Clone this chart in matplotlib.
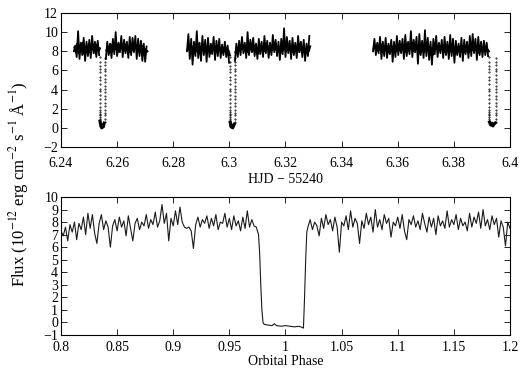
import numpy as np
import matplotlib
matplotlib.use("Agg")
import matplotlib.pyplot as plt
from matplotlib.ticker import FuncFormatter, MultipleLocator

plt.rcParams['font.family'] = ['Liberation Serif', 'DejaVu Serif']
plt.rcParams['mathtext.fontset'] = 'stix'
plt.rcParams['font.size'] = 10

# ---- top panel: light curve vs HJD-55240 ----
step = 0.0005
seg1a_t0 = 6.2446
seg1a = [8.0, 8.6, 7.4, 10.1, 7.2, 8.9, 7.6, 9.4, 7.0, 9.0, 7.5, 9.2, 7.3, 9.6, 7.8, 9.0, 7.4, 9.1, 7.6]
seg1b_t0 = 6.2560
seg1b = [7.2, 9.0, 7.6, 8.8, 7.3, 9.3, 7.7, 10.0, 7.5, 8.9, 7.9, 9.6, 7.4, 9.2, 7.8, 9.0, 7.3, 9.5, 7.6, 9.4,
         7.9, 9.6, 7.2, 9.3, 7.5, 9.1, 7.0, 8.8, 6.9, 8.5]
seg2a_t0 = 6.2849
seg2a = [8.0, 9.8, 7.2, 9.3, 6.6, 9.0, 7.5, 10.1, 7.3, 8.9, 7.0, 9.6, 7.6, 9.2, 6.9, 9.4, 7.4, 8.8, 7.7, 9.5,
         7.1, 9.1, 7.5, 9.3, 7.3, 8.7, 7.6, 9.0, 7.4, 8.6, 6.8]
seg2b_t0 = 6.3020
seg2b = [7.0, 8.8, 7.4, 9.1, 7.6, 9.5, 7.8, 8.9, 7.3, 10.0, 7.6, 9.2, 7.9, 9.4, 7.5, 8.8, 7.2, 9.3, 7.7, 9.0,
         7.4, 9.6, 7.8, 9.1, 7.3, 8.9, 7.6, 9.7, 7.9, 9.2, 7.5, 9.0, 7.1, 9.3, 7.7, 10.4, 7.4, 9.5, 7.8, 9.1,
         7.2, 9.4, 7.6, 8.9, 7.3, 9.6, 7.9, 9.0, 7.4, 9.2, 7.0, 8.8, 7.5, 9.6]
seg3_t0 = 6.3512
seg3 = [8.0, 9.3, 7.6, 8.9, 7.8, 9.5, 7.2, 9.0, 7.5, 9.4, 7.3, 8.8, 7.7, 9.2, 6.9, 9.0, 7.4, 9.6, 7.6, 9.1,
        7.8, 9.3, 7.2, 9.7, 7.5, 9.0, 7.7, 10.1, 7.4, 9.2, 7.9, 9.5, 6.7, 9.8, 7.6, 9.1, 7.3, 10.2, 7.5, 9.4,
        7.1, 9.0, 6.6, 9.3, 7.7, 9.6, 7.4, 8.9, 7.8, 9.2, 7.3, 9.5, 7.6, 9.0, 7.2, 9.7, 7.5, 9.3, 6.8, 9.1,
        7.6, 8.8, 7.4, 9.4, 7.0, 9.2, 7.7, 9.0, 7.3, 9.6, 7.5, 9.8, 7.8, 9.3, 7.1, 9.5, 7.6, 9.0, 7.4, 9.1,
        7.6, 8.9, 7.5]
# second pass through the band (inner scatter), same start times
inner1a = [8.4, 7.9, 8.8, 7.8, 8.6, 8.1, 8.9, 7.7, 8.5, 8.0, 8.7, 7.9, 8.6, 8.2, 8.4, 7.8, 8.7, 8.0, 8.3]
inner1b = [8.1, 8.5, 7.9, 8.7, 8.0, 8.4, 8.2, 8.8, 7.9, 8.6, 8.3, 8.5, 8.0, 8.7, 8.2, 8.4, 7.9, 8.6, 8.1, 8.8,
           8.3, 8.5, 7.9, 8.4, 8.1, 8.6, 7.8, 8.3, 7.9, 8.0]
inner2a = [8.2, 8.6, 7.7, 8.5, 7.9, 8.3, 8.0, 8.8, 7.8, 8.4, 8.1, 8.6, 7.9, 8.5, 8.0, 8.3, 7.8, 8.6, 8.2, 8.4,
           7.9, 8.5, 8.1, 8.3, 7.8, 8.2, 8.0, 8.4, 7.9, 8.1, 7.6]
inner2b = [7.9, 8.4, 8.0, 8.6, 8.2, 8.5, 8.1, 8.3, 7.9, 8.7, 8.2, 8.4, 8.0, 8.6, 8.3, 8.1, 7.8, 8.5, 8.2, 8.4,
           8.0, 8.7, 8.3, 8.5, 7.9, 8.4, 8.1, 8.6, 8.2, 8.5, 8.0, 8.3, 7.8, 8.6, 8.1, 8.9, 8.0, 8.5, 8.2, 8.4,
           7.9, 8.6, 8.1, 8.3, 7.9, 8.5, 8.2, 8.4, 8.0, 8.3, 7.8, 8.2, 8.0, 8.5]
inner3 = [8.3, 8.6, 8.0, 8.4, 8.2, 8.7, 7.9, 8.4, 8.1, 8.6, 7.9, 8.3, 8.2, 8.5, 7.8, 8.4, 8.0, 8.7, 8.1, 8.4,
          8.2, 8.6, 7.9, 8.8, 8.0, 8.4, 8.2, 8.9, 8.0, 8.5, 8.3, 8.6, 7.7, 8.7, 8.1, 8.4, 7.9, 8.9, 8.1, 8.5,
          7.8, 8.3, 7.6, 8.5, 8.2, 8.6, 8.0, 8.3, 8.2, 8.5, 7.9, 8.6, 8.1, 8.4, 7.9, 8.7, 8.1, 8.5, 7.7, 8.4,
          8.1, 8.3, 8.0, 8.5, 7.8, 8.4, 8.2, 8.3, 7.9, 8.6, 8.1, 8.7, 8.2, 8.5, 7.8, 8.6, 8.1, 8.3, 8.0, 8.4,
          8.1, 8.2, 8.0]

# eclipses: ingress time, egress time, bottom times/fluxes
ingress_t = [6.2538, 6.3002, 6.3926]
egress_t = [6.2557, 6.3019, 6.3949]
bottom_t = [[6.2539, 6.2542, 6.2545, 6.2548, 6.2551, 6.2554],
            [6.3003, 6.3006, 6.3009, 6.3012, 6.3015, 6.3018],
            [6.3927, 6.3931, 6.3935, 6.3939, 6.3943, 6.3947]]
bottom_f = [[0.7, 0.2, 0.0, 0.3, 0.1, 0.5],
            [0.6, 0.1, 0.3, 0.0, 0.2, 0.4],
            [0.6, 0.3, 0.5, 0.2, 0.4, 0.5]]
ingress_flux = [7.4, 6.9, 6.5, 6.2, 5.8, 5.3, 5.0, 4.6, 4.1, 3.8, 3.4, 3.0, 2.6, 2.2, 1.9, 1.7, 1.5, 1.3, 1.1, 0.9, 0.7]
egress_flux = [0.6, 0.9, 1.3, 1.6, 1.9, 2.3, 2.6, 3.0, 3.3, 3.7, 4.1, 4.4, 4.8, 5.1, 5.5, 5.9, 6.2, 6.6, 6.9, 7.3]

# ---- bottom panel: phase folded ----
pre_ph0 = 0.800
pre_flux = [7.3, 6.9, 7.6, 6.5, 7.8, 7.2, 8.0, 6.6, 7.9, 7.4, 8.4, 7.0, 8.7, 7.5, 8.6, 7.1, 6.3, 7.9, 8.6, 7.4,
            8.1, 7.6, 6.0, 7.7, 8.2, 7.3,
            8.4, 7.6, 8.1, 6.9, 8.5, 7.5, 6.5, 7.9, 8.3, 7.4, 8.0, 7.7, 8.6, 7.5, 8.2, 7.8, 8.8, 7.6, 8.1, 9.4,
            7.9, 8.7, 6.5, 8.3, 7.7,
            8.9, 7.8, 9.2, 8.0, 7.6, 7.5, 7.6, 7.3, 5.9, 7.8, 8.4, 7.6, 8.2, 7.9, 8.5, 7.5, 8.3, 7.7, 8.6, 7.4,
            8.0, 7.9, 8.7, 7.6, 8.3,
            7.4, 8.5, 7.7, 8.1, 7.3, 8.4, 7.5, 8.9, 7.6, 8.2, 7.7, 7.6]
ecl_phase = [0.976, 0.977, 0.978, 0.979, 0.980, 0.981, 0.984, 0.988, 0.990, 0.992, 0.996, 1.000, 1.004,
             1.008, 1.012, 1.015, 1.016, 1.017, 1.018, 1.019]
ecl_flux = [7.0, 5.5, 3.0, 1.0, 0.0, -0.15, -0.2, -0.25, -0.1, -0.25, -0.3, -0.25, -0.3, -0.35, -0.3,
            -0.4, -0.45, 2.0, 5.0, 7.2]
post_ph0 = 1.020
post_flux = [7.6, 8.2, 7.4, 8.0, 7.7, 6.9, 8.3, 7.5, 8.6, 7.8, 8.2, 7.3, 8.4, 7.6, 5.6, 8.0,
             7.7, 8.5, 7.4, 8.9, 7.6, 8.3, 7.9, 6.3, 8.1, 7.5, 8.7, 7.8, 8.4, 7.2, 9.0, 7.6, 8.2, 7.4, 8.6, 7.9,
             8.3, 6.8, 8.0, 7.7, 8.4,
             7.5, 8.6, 7.3, 6.6, 8.2, 7.8, 8.5, 7.6, 8.1, 7.4, 8.7, 7.9, 7.2, 8.4, 7.6, 8.3, 7.0, 8.5, 7.7, 8.1,
             7.5, 8.9, 7.6, 8.2, 7.8,
             8.6, 7.4, 8.3, 7.7, 8.0, 7.3, 8.7, 7.6, 8.4, 7.9, 8.8, 7.5, 9.0, 7.7, 8.2, 7.4, 8.5, 7.8, 8.3, 6.8,
             8.1, 7.6, 6.1, 8.0, 7.5]
ph_step = 0.002


def fmt(v, pos):
    return ('%g' % round(v, 4)).replace('-', '\u2212')


fig = plt.figure(figsize=(5.27, 3.69), dpi=100)
ax1 = fig.add_axes([0.1157, 0.6016, 0.852, 0.3632])
ax2 = fig.add_axes([0.1157, 0.0921, 0.852, 0.374])

segs = [(seg1a_t0, seg1a, inner1a), (seg1b_t0, seg1b, inner1b), (seg2a_t0, seg2a, inner2a),
        (seg2b_t0, seg2b, inner2b), (seg3_t0, seg3, inner3)]
for t0, vals, inner in segs:
    t = t0 + step * np.arange(len(vals))
    ax1.plot(t, vals, color='k', lw=1.3)
    ax1.plot(t + step / 2, inner, color='k', lw=1.6)

for i in range(3):
    ax1.plot([ingress_t[i]] * len(ingress_flux), ingress_flux, 'k.', ms=0.9)
    ax1.plot([egress_t[i]] * len(egress_flux), egress_flux, 'k.', ms=0.9)
    ax1.plot(bottom_t[i], bottom_f[i], color='k', lw=2.2)

ax1.set_xlim(6.24, 6.40)
ax1.set_ylim(-2, 12)
ax1.xaxis.set_major_locator(MultipleLocator(0.02))
ax1.yaxis.set_major_locator(MultipleLocator(2))
ax1.set_xlabel('HJD \u2212 55240', labelpad=2)
ax1.tick_params(axis='x', pad=7)

pre_ph = pre_ph0 + ph_step * np.arange(len(pre_flux))
post_ph = post_ph0 + ph_step * np.arange(len(post_flux))
ph = np.concatenate([pre_ph, ecl_phase, post_ph])
fl = np.concatenate([pre_flux, ecl_flux, post_flux])
ax2.plot(ph, fl, color='0.1', lw=0.8)
ax2.set_xlim(0.8, 1.2)
ax2.set_ylim(-1, 10)
ax2.xaxis.set_major_locator(MultipleLocator(0.05))
ax2.yaxis.set_major_locator(MultipleLocator(1))
ax2.set_xlabel('Orbital Phase', labelpad=1)
ax2.tick_params(axis='x', pad=4)

for ax in (ax1, ax2):
    ax.xaxis.set_major_formatter(FuncFormatter(fmt))
    ax.yaxis.set_major_formatter(FuncFormatter(fmt))
    ax.tick_params(direction='in', top=True, right=True, length=4, width=0.6)
    ax.tick_params(axis='y', pad=2)
    for s in ax.spines.values():
        s.set_linewidth(0.8)

fig.text(0.036, 0.50, 'Flux (10$^{-12}$ erg cm$^{-2}$ s$^{-1}$ \u00c5$^{-1}$)',
         rotation=90, ha='center', va='center', fontsize=12)

fig.savefig('out.png', dpi=100)
